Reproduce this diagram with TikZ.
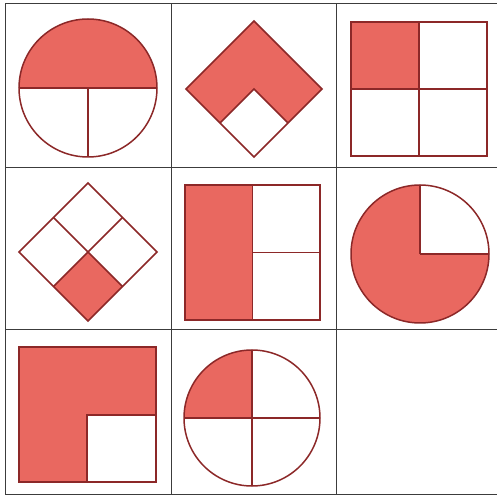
\documentclass[tikz,border=0pt]{standalone}
\begin{document}
\begin{tikzpicture}[x=1pt,y=1pt,
  redfill/.style={fill=shapered},
  outline/.style={draw=outlinered,line width=1.5pt,line join=miter},
  gridline/.style={draw=gridgray,line width=1pt}]
\definecolor{shapered}{RGB}{233,104,96}
\definecolor{outlinered}{RGB}{140,40,40}
\definecolor{gridgray}{RGB}{60,60,60}
\useasboundingbox (0,0) rectangle (497,498);
\fill[white] (0,0) rectangle (497,498);
% grid
\foreach \x in {5,171,336} \draw[gridline] (\x,3) -- (\x,494);
\foreach \y in {3,168,330,494} \draw[gridline] (5,\y) -- (497,\y);
% cell 1: circle, top half red
\fill[redfill] (19,410) arc[start angle=180,end angle=0,radius=69] -- cycle;
\draw[outline] (88,410) circle[radius=69];
\draw[outline] (19,410) -- (157,410) (88,410) -- (88,341);
% cell 2: diamond, 3 of 4 red
\fill[redfill] (186,409) -- (254,477) -- (322,409) -- (254,341) -- cycle;
\fill[white] (254,409) -- (288,375) -- (254,341) -- (220,375) -- cycle;
\draw[outline] (186,409) -- (254,477) -- (322,409) -- (254,341) -- cycle;
\draw[outline] (220,375) -- (254,409) -- (288,375);
% cell 3: square, top-left quarter red
\fill[redfill] (351,409) rectangle (419,476);
\draw[outline] (351,342) rectangle (487,476);
\draw[outline] (419,342) -- (419,476) (351,409) -- (487,409);
% cell 4: diamond, bottom quarter red
\fill[redfill] (88,246) -- (122.5,211.5) -- (88,177) -- (53.5,211.5) -- cycle;
\draw[outline] (19,246) -- (88,315) -- (157,246) -- (88,177) -- cycle;
\draw[outline] (53.5,280.5) -- (122.5,211.5) (122.5,280.5) -- (53.5,211.5);
% cell 5: square, left half red
\fill[redfill] (185,178) rectangle (252.5,313);
\draw[outline] (185,178) rectangle (320,313);
\draw[outline] (252.5,178) -- (252.5,313) (252.5,245.5) -- (320,245.5);
% cell 6: circle, three quarters red
\fill[redfill] (420,244) circle[radius=69];
\fill[white] (420,244) -- (489,244) arc[start angle=0,end angle=90,radius=69] -- cycle;
\draw[outline] (420,244) circle[radius=69];
\draw[outline] (420,244) -- (489,244) (420,244) -- (420,313);
% cell 7: square, three quarters red
\fill[redfill] (19,16) rectangle (156,151);
\fill[white] (87,16) rectangle (156,83);
\draw[outline] (19,16) rectangle (156,151);
\draw[outline] (87,16) rectangle (156,83);
% cell 8: circle, top-left quarter red
\fill[redfill] (252,80) -- (184,80) arc[start angle=180,end angle=90,radius=68] -- cycle;
\draw[outline] (252,80) circle[radius=68];
\draw[outline] (184,80) -- (320,80) (252,12) -- (252,148);
\end{tikzpicture}
\end{document}
